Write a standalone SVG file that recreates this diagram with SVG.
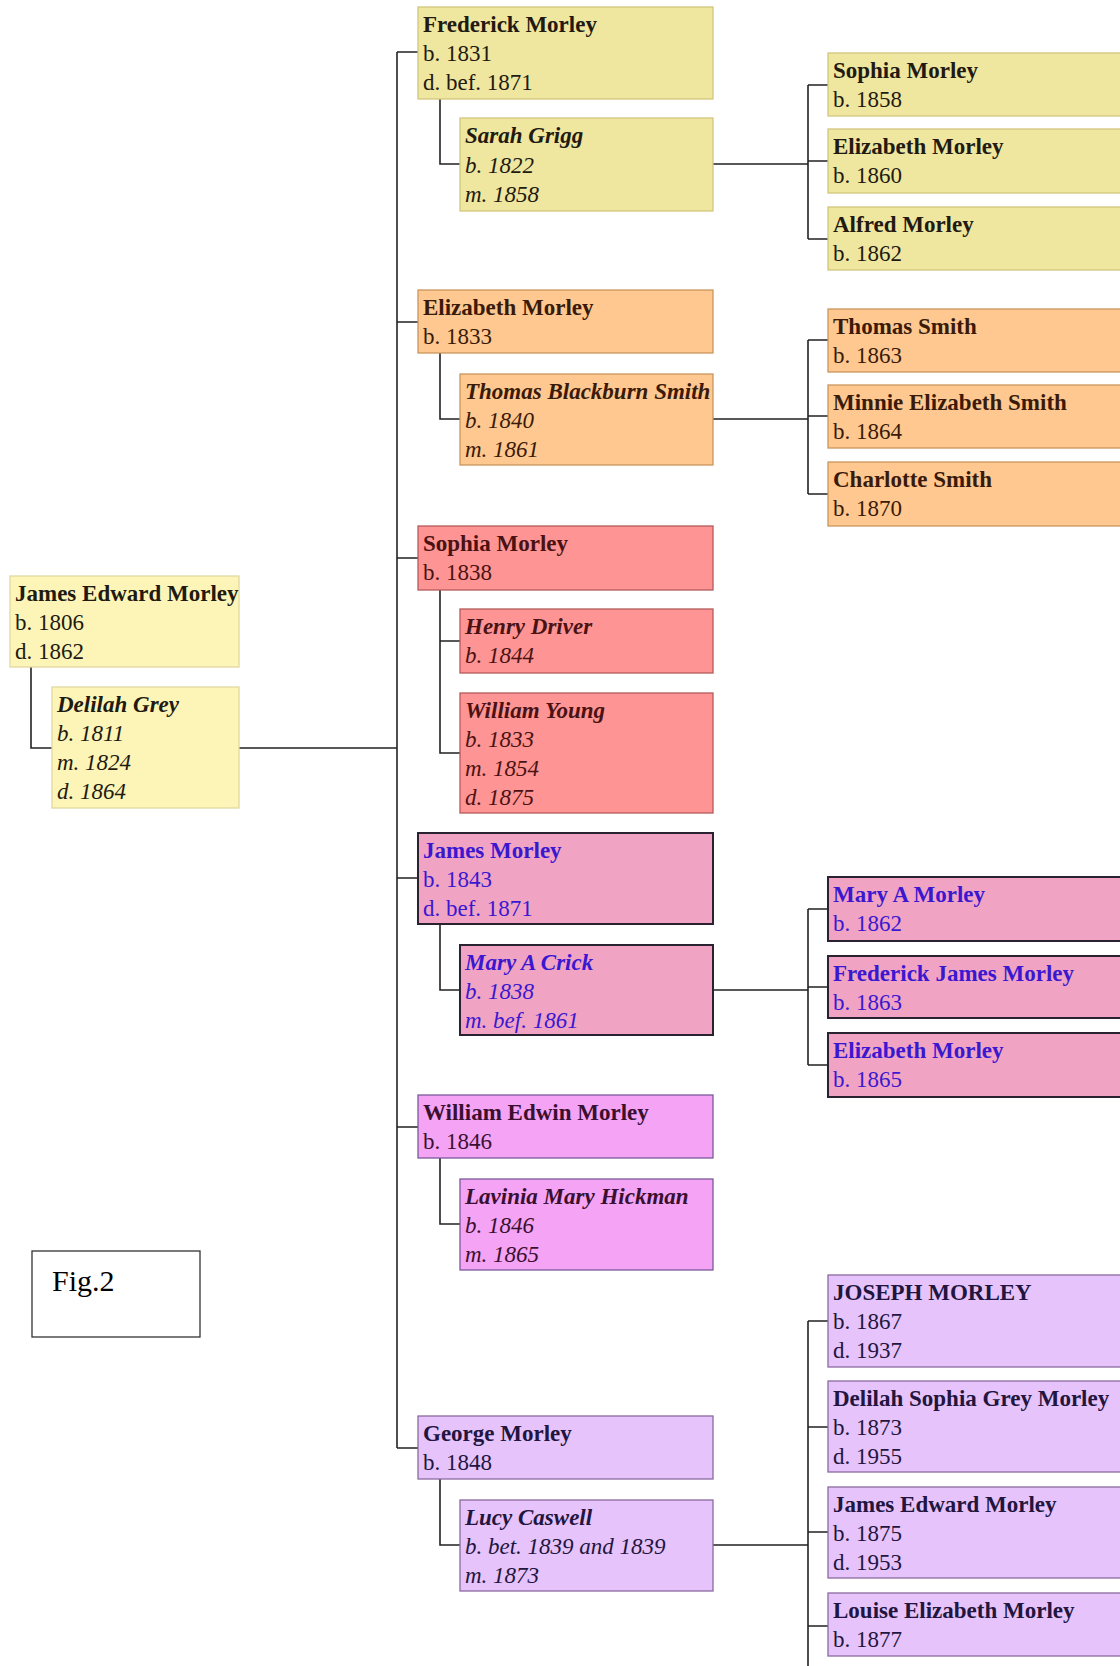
<svg xmlns="http://www.w3.org/2000/svg" width="1120" height="1666" viewBox="0 0 1120 1666">
<style>
text{font-family:"Liberation Serif","Times New Roman",serif;font-size:23px;fill:#221a10}
.n{font-weight:bold}
.s{font-style:italic}
.sn{font-weight:bold;font-style:italic}
rect{stroke-width:1.3}
.c1 rect{fill:#fdf5b8;stroke:#e0d8a0}
.c2 rect{fill:#efe6a0;stroke:#d2c67c}
.c3 rect{fill:#fec890;stroke:#c9965e}
.c3 text{fill:#3a1a08}
.c4 rect{fill:#ff9494;stroke:#b45a5a}
.c4 text{fill:#4a1212}
.c5 rect{fill:#f1a3c3;stroke:#2a2230;stroke-width:2}
.c5 text{fill:#3a18d0}
.c6 rect{fill:#f5a3f5;stroke:#7a5a9a}
.c6 text{fill:#3a1030}
.c7 rect{fill:#e6c3fa;stroke:#8a6aa0}
.c7 text{fill:#221540}
#connectors path{fill:none;stroke:#222;stroke-width:1.6}
.fig rect{fill:#fff;stroke:#333;stroke-width:1.3}
.fig text{font-size:30px;fill:#000}
</style>
<rect width="1120" height="1666" fill="#fff"/>
<g id="connectors">
<path d="M31 667V748H52M239 748H397"/>
<path d="M397 52V1448"/>
<path d="M397 52H418M397 322H418M397 558H418M397 878H418M397 1127H418M397 1448H418"/>
<path d="M440 99V164H460M440 353V419H460M440 590V753H460M440 641H460M440 924V990H460M440 1158V1224H460M440 1479V1545H460"/>
<path d="M713 164H808M808 85V239M808 85H828M808 161H828M808 239H828"/>
<path d="M713 419H808M808 340V494M808 340H828M808 416H828M808 494H828"/>
<path d="M713 990H808M808 909V1065M808 909H828M808 987H828M808 1065H828"/>
<path d="M713 1545H808M808 1321V1666M808 1321H828M808 1427H828M808 1532H828M808 1626H828"/>
</g>
<g id="p-james-edward" class="c1"><rect x="10" y="576" width="229" height="91"/><text x="15" y="601" class="n">James Edward Morley</text><text x="15" y="630">b. 1806</text><text x="15" y="659">d. 1862</text></g>
<g id="p-delilah" class="c1"><rect x="52" y="687" width="187" height="121"/><text x="57" y="712" class="sn">Delilah Grey</text><text x="57" y="741" class="s">b. 1811</text><text x="57" y="770" class="s">m. 1824</text><text x="57" y="799" class="s">d. 1864</text></g>

<g id="p-frederick" class="c2"><rect x="418" y="7" width="295" height="92"/><text x="423" y="32" class="n">Frederick Morley</text><text x="423" y="61">b. 1831</text><text x="423" y="90">d. bef. 1871</text></g>
<g id="p-sarah" class="c2"><rect x="460" y="118" width="253" height="93"/><text x="465" y="143" class="sn">Sarah Grigg</text><text x="465" y="173" class="s">b. 1822</text><text x="465" y="202" class="s">m. 1858</text></g>
<g id="p-sophia-1858" class="c2"><rect x="828" y="53" width="300" height="63"/><text x="833" y="78" class="n">Sophia Morley</text><text x="833" y="107">b. 1858</text></g>
<g id="p-elizabeth-1860" class="c2"><rect x="828" y="129" width="300" height="64"/><text x="833" y="154" class="n">Elizabeth Morley</text><text x="833" y="183">b. 1860</text></g>
<g id="p-alfred" class="c2"><rect x="828" y="207" width="300" height="63"/><text x="833" y="232" class="n">Alfred Morley</text><text x="833" y="261">b. 1862</text></g>

<g id="p-elizabeth-1833" class="c3"><rect x="418" y="290" width="295" height="63"/><text x="423" y="315" class="n">Elizabeth Morley</text><text x="423" y="344">b. 1833</text></g>
<g id="p-thomas-blackburn" class="c3"><rect x="460" y="374" width="253" height="91"/><text x="465" y="399" class="sn">Thomas Blackburn Smith</text><text x="465" y="428" class="s">b. 1840</text><text x="465" y="457" class="s">m. 1861</text></g>
<g id="p-thomas-smith" class="c3"><rect x="828" y="309" width="300" height="63"/><text x="833" y="334" class="n">Thomas Smith</text><text x="833" y="363">b. 1863</text></g>
<g id="p-minnie" class="c3"><rect x="828" y="385" width="300" height="63"/><text x="833" y="410" class="n">Minnie Elizabeth Smith</text><text x="833" y="439">b. 1864</text></g>
<g id="p-charlotte" class="c3"><rect x="828" y="462" width="300" height="64"/><text x="833" y="487" class="n">Charlotte Smith</text><text x="833" y="516">b. 1870</text></g>

<g id="p-sophia-1838" class="c4"><rect x="418" y="526" width="295" height="64"/><text x="423" y="551" class="n">Sophia Morley</text><text x="423" y="580">b. 1838</text></g>
<g id="p-henry" class="c4"><rect x="460" y="609" width="253" height="64"/><text x="465" y="634" class="sn">Henry Driver</text><text x="465" y="663" class="s">b. 1844</text></g>
<g id="p-william-young" class="c4"><rect x="460" y="693" width="253" height="120"/><text x="465" y="718" class="sn">William Young</text><text x="465" y="747" class="s">b. 1833</text><text x="465" y="776" class="s">m. 1854</text><text x="465" y="805" class="s">d. 1875</text></g>

<g id="p-james-1843" class="c5"><rect x="418" y="833" width="295" height="91"/><text x="423" y="858" class="n">James Morley</text><text x="423" y="887">b. 1843</text><text x="423" y="916">d. bef. 1871</text></g>
<g id="p-mary-crick" class="c5"><rect x="460" y="945" width="253" height="90"/><text x="465" y="970" class="sn">Mary A Crick</text><text x="465" y="999" class="s">b. 1838</text><text x="465" y="1028" class="s">m. bef. 1861</text></g>
<g id="p-mary-morley" class="c5"><rect x="828" y="877" width="300" height="64"/><text x="833" y="902" class="n">Mary A Morley</text><text x="833" y="931">b. 1862</text></g>
<g id="p-frederick-james" class="c5"><rect x="828" y="956" width="300" height="62"/><text x="833" y="981" class="n">Frederick James Morley</text><text x="833" y="1010">b. 1863</text></g>
<g id="p-elizabeth-1865" class="c5"><rect x="828" y="1033" width="300" height="64"/><text x="833" y="1058" class="n">Elizabeth Morley</text><text x="833" y="1087">b. 1865</text></g>

<g id="p-william-edwin" class="c6"><rect x="418" y="1095" width="295" height="63"/><text x="423" y="1120" class="n">William Edwin Morley</text><text x="423" y="1149">b. 1846</text></g>
<g id="p-lavinia" class="c6"><rect x="460" y="1179" width="253" height="91"/><text x="465" y="1204" class="sn">Lavinia Mary Hickman</text><text x="465" y="1233" class="s">b. 1846</text><text x="465" y="1262" class="s">m. 1865</text></g>

<g id="p-george" class="c7"><rect x="418" y="1416" width="295" height="63"/><text x="423" y="1441" class="n">George Morley</text><text x="423" y="1470">b. 1848</text></g>
<g id="p-lucy" class="c7"><rect x="460" y="1500" width="253" height="91"/><text x="465" y="1525" class="sn">Lucy Caswell</text><text x="465" y="1554" class="s">b. bet. 1839 and 1839</text><text x="465" y="1583" class="s">m. 1873</text></g>
<g id="p-joseph" class="c7"><rect x="828" y="1275" width="300" height="92"/><text x="833" y="1300" class="n">JOSEPH MORLEY</text><text x="833" y="1329">b. 1867</text><text x="833" y="1358">d. 1937</text></g>
<g id="p-delilah-sophia" class="c7"><rect x="828" y="1381" width="300" height="91"/><text x="833" y="1406" class="n">Delilah Sophia Grey Morley</text><text x="833" y="1435">b. 1873</text><text x="833" y="1464">d. 1955</text></g>
<g id="p-james-1875" class="c7"><rect x="828" y="1487" width="300" height="91"/><text x="833" y="1512" class="n">James Edward Morley</text><text x="833" y="1541">b. 1875</text><text x="833" y="1570">d. 1953</text></g>
<g id="p-louise" class="c7"><rect x="828" y="1593" width="300" height="63"/><text x="833" y="1618" class="n">Louise Elizabeth Morley</text><text x="833" y="1647">b. 1877</text></g>

<g id="fig-label" class="fig"><rect x="32" y="1251" width="168" height="86"/><text x="52" y="1291">Fig.2</text></g>
</svg>
